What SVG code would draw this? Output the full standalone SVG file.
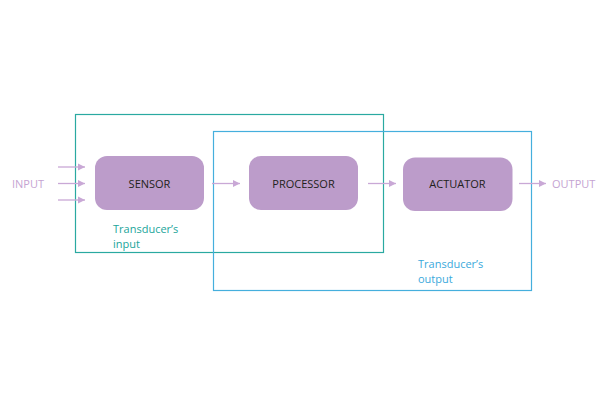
<svg xmlns="http://www.w3.org/2000/svg" width="600" height="400" viewBox="0 0 600 400">
<style>
.node{fill:#bc9cca;}
.lbl{font-family:"Open Sans","Liberation Sans",sans-serif;font-size:11px;fill:#231f20;text-anchor:middle;}
.io{font-family:"Open Sans","Liberation Sans",sans-serif;font-size:11px;fill:#c5a3d2;}
.conn{stroke:#c9a8d6;stroke-width:1.3;fill:none;marker-end:url(#ah);}
.teal{font-family:"Open Sans","Liberation Sans",sans-serif;font-size:11px;fill:#1ba59b;}
.blue{font-family:"Open Sans","Liberation Sans",sans-serif;font-size:11px;fill:#3aa9dc;}
</style>
<defs>
<marker id="ah" markerWidth="8" markerHeight="8" refX="7" refY="4" orient="auto" markerUnits="userSpaceOnUse">
<path d="M0,0.5 L7,4 L0,7.5 Z" fill="#c9a8d6"/>
</marker>
</defs>
<rect width="600" height="400" fill="#ffffff"/>
<g id="transducer-input">
<rect x="75.5" y="114.5" width="308" height="138" fill="none" stroke="#2aa9a1" stroke-width="1.2"/>
<text class="teal" x="113" y="233">Transducer’s</text>
<text class="teal" x="113" y="248">input</text>
</g>
<g id="transducer-output">
<rect x="213.5" y="131.5" width="318" height="159" fill="none" stroke="#45afdd" stroke-width="1.2"/>
<text class="blue" x="418" y="268">Transducer’s</text>
<text class="blue" x="418" y="283">output</text>
</g>
<g id="connectors">
<line class="conn" x1="58" y1="167" x2="85" y2="167"/>
<line class="conn" x1="58" y1="183.5" x2="85" y2="183.5"/>
<line class="conn" x1="58" y1="200" x2="85" y2="200"/>
<line class="conn" x1="212" y1="183.5" x2="240" y2="183.5"/>
<line class="conn" x1="368" y1="183.5" x2="396" y2="183.5"/>
<line class="conn" x1="519" y1="183.5" x2="546" y2="183.5"/>
</g>
<g id="input"><text class="io" x="12" y="187.5">INPUT</text></g>
<g id="output"><text class="io" x="552" y="187.5">OUTPUT</text></g>
<g id="sensor">
<rect class="node" x="95" y="156" width="109" height="54" rx="12"/>
<text class="lbl" x="149.5" y="187.5">SENSOR</text>
</g>
<g id="processor">
<rect class="node" x="249" y="156" width="109" height="54" rx="12"/>
<text class="lbl" x="303.5" y="187.5">PROCESSOR</text>
</g>
<g id="actuator">
<rect class="node" x="403" y="157.5" width="109.5" height="53.5" rx="12"/>
<text class="lbl" x="457.5" y="187.5">ACTUATOR</text>
</g>
</svg>
